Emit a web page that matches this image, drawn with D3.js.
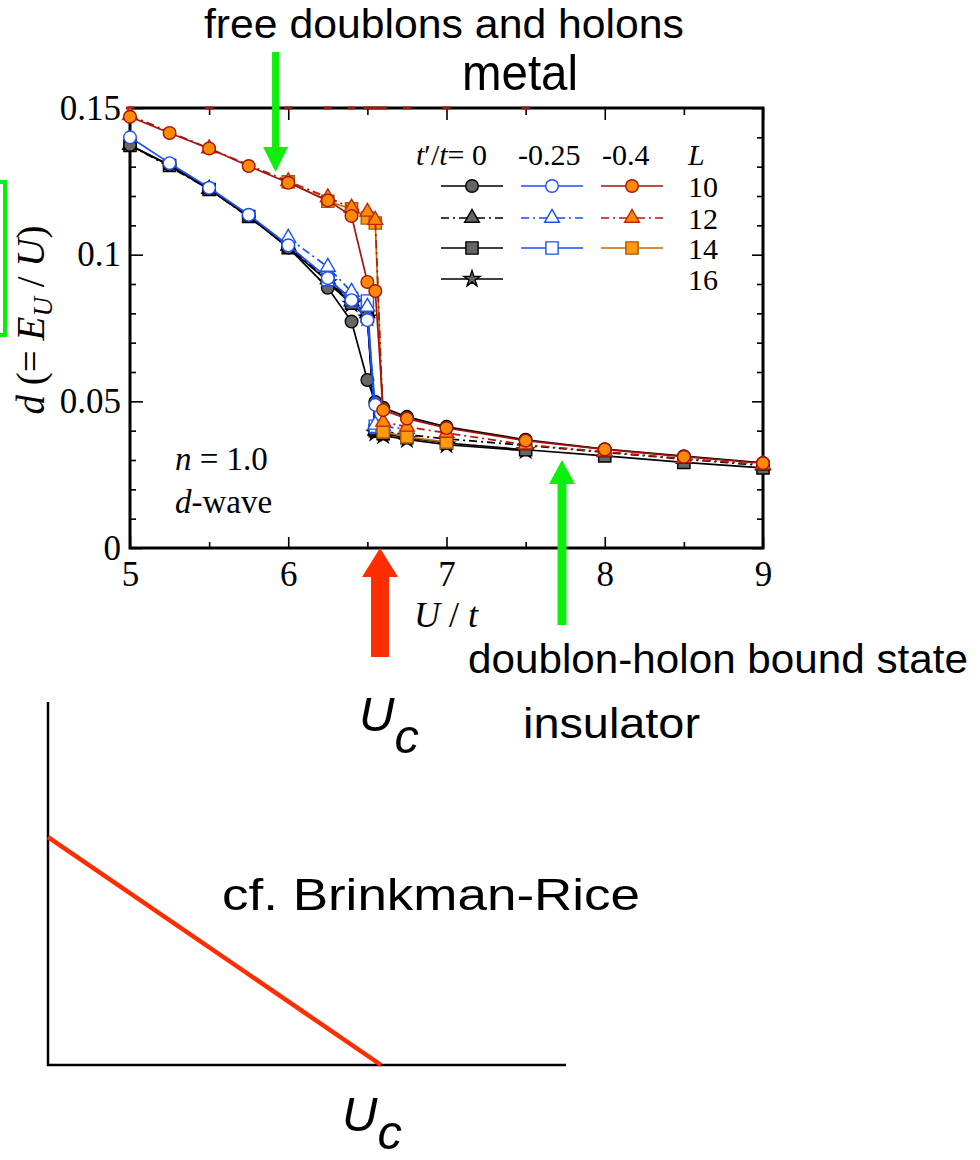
<!DOCTYPE html>
<html>
<head>
<meta charset="utf-8">
<script src="https://cdn.jsdelivr.net/npm/d3@7"></script>
<style>
  html, body { margin: 0; padding: 0; background: #fff; }
  svg { display: block; }
</style>
</head>
<body>
<svg id="chart" width="980" height="1160"></svg>
<script>
// ---- double occupancy d = E_U / U vs U/t (n = 1.0, d-wave) ----
// t'/t = 0
const u_t0_L10 = [5, 5.25, 5.5, 5.75, 6, 6.25, 6.4, 6.5, 6.55, 6.6, 6.75, 7, 7.5, 8, 8.5, 9];
const d_t0_L10 = [0.1374, 0.1306, 0.1224, 0.1132, 0.1024, 0.0887, 0.0772, 0.0573, 0.0498, 0.0478, 0.0447, 0.0413, 0.0369, 0.0337, 0.0313, 0.0290];
const u_t0_L12 = [5, 5.5, 6, 6.25, 6.4, 6.5, 6.55, 6.6, 6.75, 7, 7.5, 8, 8.5, 9];
const d_t0_L12 = [0.1374, 0.1224, 0.1030, 0.0915, 0.0840, 0.0800, 0.0400, 0.0398, 0.0386, 0.0372, 0.0350, 0.0326, 0.0303, 0.0281];
const u_t0_L14 = [5, 5.25, 5.5, 5.75, 6, 6.25, 6.4, 6.5, 6.55, 6.6, 6.75, 7, 7.5, 8, 8.5, 9];
const d_t0_L14 = [0.1372, 0.1304, 0.1222, 0.1130, 0.1024, 0.0910, 0.0835, 0.0790, 0.0400, 0.0390, 0.0376, 0.0358, 0.0335, 0.0314, 0.0292, 0.0273];
const u_t0_L16 = [6.25, 6.4, 6.5, 6.55, 6.6, 6.75, 7, 7.5];
const d_t0_L16 = [0.0905, 0.0832, 0.0785, 0.0392, 0.0383, 0.0370, 0.0352, 0.0332];
// t'/t = -0.25
const u_t25_L10 = [5, 5.25, 5.5, 5.75, 6, 6.25, 6.4, 6.5, 6.55];
const d_t25_L10 = [0.1400, 0.1312, 0.1228, 0.1136, 0.1032, 0.0920, 0.0845, 0.0777, 0.0488];
const u_t25_L12 = [6, 6.25, 6.4, 6.5, 6.55, 6.6, 6.75];
const d_t25_L12 = [0.1057, 0.0958, 0.0873, 0.0822, 0.0420, 0.0414, 0.0405];
const u_t25_L14 = [6.25, 6.4, 6.5, 6.55];
const d_t25_L14 = [0.0915, 0.0850, 0.0842, 0.0415];
// t'/t = -0.4
const u_t40_L10 = [5, 5.25, 5.5, 5.75, 6, 6.25, 6.4, 6.5, 6.55, 6.6, 6.75, 7, 7.5, 8, 8.5, 9];
const d_t40_L10 = [0.1470, 0.1415, 0.1362, 0.1302, 0.1245, 0.1185, 0.1132, 0.0907, 0.0876, 0.0470, 0.0441, 0.0409, 0.0366, 0.0336, 0.0311, 0.0289];
const u_t40_L12 = [5, 5.5, 6, 6.25, 6.4, 6.5, 6.55, 6.6, 6.75, 7, 7.5, 8, 8.5, 9];
const d_t40_L12 = [0.1475, 0.1362, 0.1250, 0.1195, 0.1160, 0.1146, 0.1118, 0.0430, 0.0413, 0.0392, 0.0352, 0.0328, 0.0305, 0.0284];
const u_t40_L14 = [6, 6.25, 6.4, 6.5, 6.55, 6.6, 6.75, 7];
const d_t40_L14 = [0.1248, 0.1182, 0.1156, 0.1125, 0.1108, 0.0396, 0.0379, 0.0361];

// axis ticks
const xMajor = [5, 6, 7, 8, 9];
const xMinor = [5.5, 6.5, 7.5, 8.5];
const yMajor = [0, 0.05, 0.1, 0.15];
const yMinor = [0.01, 0.02, 0.03, 0.04, 0.06, 0.07, 0.08, 0.09, 0.11, 0.12, 0.13, 0.14];

// legend
const legendTp = ["0", "-0.25", "-0.4"];
const legendL = ["10", "12", "14", "16"];

// Brinkman-Rice sketch (schematic units)
const brU = [0, 0.643];
const brD = [0.628, 0];

// annotation anchors in data coordinates
const ucU = 6.58;
const metalArrow = [5.92, 0.1282];
const insArrow = [7.73, 0.0300];

// -------------------------------------------------------------
const SERIF = "'Liberation Serif', 'Times New Roman', serif";
const SANS = "'Liberation Sans', Arial, sans-serif";

const svg = d3.select("#chart");
const x = d3.scaleLinear().domain([5, 9]).range([130, 763]);
const y = d3.scaleLinear().domain([0, 0.15]).range([548, 108]);

const BLACK = "#000", GRAY = "#666", BLUE = "#1a4dff";
const DASHDOT = "8,4,2,4";

const symSize = { circle: 125, triangle: 95, square: 150, star: 80 };
const symType = { circle: d3.symbolCircle, triangle: d3.symbolTriangle, square: d3.symbolSquare, star: d3.symbolStar };
const symbol = t => d3.symbol().type(symType[t]).size(symSize[t])();

// series: drawing order black -> blue -> orange
const series = [
  { row: 3, col: 0, u: u_t0_L16, d: d_t0_L16, line: BLACK, dash: null, sym: "star", fill: GRAY, ms: BLACK },
  { row: 2, col: 0, u: u_t0_L14, d: d_t0_L14, line: BLACK, dash: null, sym: "square", fill: GRAY, ms: BLACK },
  { row: 1, col: 0, u: u_t0_L12, d: d_t0_L12, line: BLACK, dash: DASHDOT, sym: "triangle", fill: GRAY, ms: BLACK },
  { row: 0, col: 0, u: u_t0_L10, d: d_t0_L10, line: BLACK, dash: null, sym: "circle", fill: GRAY, ms: BLACK },
  { row: 2, col: 1, u: u_t25_L14, d: d_t25_L14, line: BLUE, dash: null, sym: "square", fill: "#fff", ms: BLUE },
  { row: 1, col: 1, u: u_t25_L12, d: d_t25_L12, line: BLUE, dash: DASHDOT, sym: "triangle", fill: "#fff", ms: BLUE },
  { row: 0, col: 1, u: u_t25_L10, d: d_t25_L10, line: BLUE, dash: null, sym: "circle", fill: "#fff", ms: BLUE },
  { row: 2, col: 2, u: u_t40_L14, d: d_t40_L14, line: "#c46a00", dash: null, sym: "square", fill: "#ff9a10", ms: "#a85a00" },
  { row: 1, col: 2, u: u_t40_L12, d: d_t40_L12, line: "#b5170c", dash: DASHDOT, sym: "triangle", fill: "#ff8a00", ms: "#c0280a" },
  { row: 0, col: 2, u: u_t40_L10, d: d_t40_L10, line: "#a3120c", dash: null, sym: "circle", fill: "#ff8a00", ms: "#a3120c" }
];

// ---- axes ----
function styleAxis(g, size) {
  g.attr("font-family", SERIF).attr("font-size", size);
  g.select(".domain").remove();
  g.selectAll(".tick line").attr("stroke", BLACK).attr("stroke-width", 1.6);
  g.selectAll(".tick text").attr("fill", BLACK);
}
const gB = svg.append("g").attr("transform", `translate(0,${y(0)})`)
  .call(d3.axisBottom(x).tickValues(xMajor).tickSize(-11).tickPadding(13).tickFormat(d3.format("d")));
styleAxis(gB, 35);
const gBm = svg.append("g").attr("transform", `translate(0,${y(0)})`)
  .call(d3.axisBottom(x).tickValues(xMinor).tickSize(-6).tickFormat(""));
styleAxis(gBm, 35);
const gT = svg.append("g").attr("transform", `translate(0,${y(0.15)})`)
  .call(d3.axisTop(x).tickValues(xMajor).tickSize(-12).tickFormat(""));
styleAxis(gT, 35);
const gTm = svg.append("g").attr("transform", `translate(0,${y(0.15)})`)
  .call(d3.axisTop(x).tickValues(xMinor).tickSize(-7).tickFormat(""));
styleAxis(gTm, 35);
const gL = svg.append("g").attr("transform", `translate(${x(5)},0)`)
  .call(d3.axisLeft(y).tickValues(yMajor).tickSize(-13).tickPadding(9).tickFormat(d => String(d)));
styleAxis(gL, 35);
const gLm = svg.append("g").attr("transform", `translate(${x(5)},0)`)
  .call(d3.axisLeft(y).tickValues(yMinor).tickSize(-6).tickFormat(""));
styleAxis(gLm, 35);
const gR = svg.append("g").attr("transform", `translate(${x(9)},0)`)
  .call(d3.axisRight(y).tickValues(yMajor).tickSize(-11).tickFormat(""));
styleAxis(gR, 35);
const gRm = svg.append("g").attr("transform", `translate(${x(9)},0)`)
  .call(d3.axisRight(y).tickValues(yMinor).tickSize(-6).tickFormat(""));
styleAxis(gRm, 35);

// frame
svg.append("rect")
  .attr("x", x(5)).attr("y", y(0.15))
  .attr("width", x(9) - x(5)).attr("height", y(0) - y(0.15))
  .attr("fill", "none").attr("stroke", BLACK).attr("stroke-width", 3);

// faint dark-red traces of the t'/t=-0.4, L=12 data along the upper frame edge
svg.append("g").selectAll("line").data(u_t40_L12.filter(u => u <= 7.5)).join("line")
  .attr("x1", u => x(u) - 4).attr("x2", u => x(u) + 4)
  .attr("y1", y(0.15)).attr("y2", y(0.15))
  .attr("stroke", "#9a1a10").attr("stroke-width", 3);

// ---- data ----
const lineGen = d3.line().x(p => x(p[0])).y(p => y(p[1]));
const plot = svg.append("g");
series.forEach(s => {
  const pts = s.u.map((u, i) => [u, s.d[i]]);
  plot.append("path")
    .attr("d", lineGen(pts))
    .attr("fill", "none").attr("stroke", s.line).attr("stroke-width", 1.7)
    .attr("stroke-dasharray", s.dash);
  plot.append("g").selectAll("path").data(pts).join("path")
    .attr("transform", p => `translate(${x(p[0])},${y(p[1])})`)
    .attr("d", symbol(s.sym))
    .attr("fill", s.fill).attr("stroke", s.ms).attr("stroke-width", 1.4);
});

// ---- legend ----
const leg = svg.append("g").attr("font-family", SERIF).attr("font-size", 30).attr("fill", BLACK);
const colX = [[441, 503], [521, 583], [601, 663]];
const rowY = [186, 218, 248, 279];
const hdr = leg.append("text").attr("x", 416).attr("y", 165);
hdr.append("tspan").attr("font-style", "italic").text("t");
hdr.append("tspan").text("\u2032/");
hdr.append("tspan").attr("font-style", "italic").text("t");
hdr.append("tspan").text("= " + legendTp[0]);
leg.append("text").attr("x", 518).attr("y", 165).text(legendTp[1]);
leg.append("text").attr("x", 602).attr("y", 165).text(legendTp[2]);
leg.append("text").attr("x", 688).attr("y", 165).attr("font-style", "italic").text("L");
legendL.forEach((l, i) => leg.append("text").attr("x", 688).attr("y", rowY[i] + 11).text(l));
series.forEach(s => {
  const [a, b] = colX[s.col];
  const yy = rowY[s.row];
  leg.append("line").attr("x1", a).attr("x2", b).attr("y1", yy).attr("y2", yy)
    .attr("stroke", s.line).attr("stroke-width", 1.7).attr("stroke-dasharray", s.dash);
  leg.append("path").attr("transform", `translate(${(a + b) / 2},${yy})`)
    .attr("d", symbol(s.sym)).attr("fill", s.fill).attr("stroke", s.ms).attr("stroke-width", 1.4);
});

// ---- axis titles and notes ----
const yl = svg.append("text")
  .attr("transform", "translate(44,320) rotate(-90)")
  .attr("text-anchor", "middle")
  .attr("font-family", SERIF).attr("font-size", 39).attr("fill", BLACK);
yl.append("tspan").attr("font-style", "italic").text("d");
yl.append("tspan").text(" (= ");
yl.append("tspan").attr("font-style", "italic").text("E");
yl.append("tspan").attr("font-style", "italic").attr("font-size", 27).attr("dy", 8).text("U");
yl.append("tspan").attr("dy", -8).text(" / ");
yl.append("tspan").attr("font-style", "italic").text("U");
yl.append("tspan").text(")");

const xl = svg.append("text").attr("x", 414).attr("y", 627)
  .attr("font-family", SERIF).attr("font-size", 36).attr("fill", BLACK);
xl.append("tspan").attr("font-style", "italic").text("U");
xl.append("tspan").text(" / ");
xl.append("tspan").attr("font-style", "italic").text("t");

const n1 = svg.append("text").attr("x", 175).attr("y", 470)
  .attr("font-family", SERIF).attr("font-size", 33).attr("fill", BLACK);
n1.append("tspan").attr("font-style", "italic").text("n");
n1.append("tspan").text(" = 1.0");
const n2 = svg.append("text").attr("x", 175).attr("y", 513)
  .attr("font-family", SERIF).attr("font-size", 33).attr("fill", BLACK);
n2.append("tspan").attr("font-style", "italic").text("d");
n2.append("tspan").text("-wave");

// ---- arrows ----
const GREEN = "#0bef0b", RED = "#ff2d00";
function downArrow(cx, tipY, topY, shaftW, headW, headH, color) {
  const p = d3.path();
  p.moveTo(cx - shaftW / 2, topY);
  p.lineTo(cx + shaftW / 2, topY);
  p.lineTo(cx + shaftW / 2, tipY - headH);
  p.lineTo(cx + headW / 2, tipY - headH);
  p.lineTo(cx, tipY);
  p.lineTo(cx - headW / 2, tipY - headH);
  p.lineTo(cx - shaftW / 2, tipY - headH);
  p.closePath();
  svg.append("path").attr("d", p.toString()).attr("fill", color);
}
function upArrow(cx, tipY, botY, shaftW, headW, headH, color) {
  const p = d3.path();
  p.moveTo(cx - shaftW / 2, botY);
  p.lineTo(cx + shaftW / 2, botY);
  p.lineTo(cx + shaftW / 2, tipY + headH);
  p.lineTo(cx + headW / 2, tipY + headH);
  p.lineTo(cx, tipY);
  p.lineTo(cx - headW / 2, tipY + headH);
  p.lineTo(cx - shaftW / 2, tipY + headH);
  p.closePath();
  svg.append("path").attr("d", p.toString()).attr("fill", color);
}
downArrow(x(metalArrow[0]), y(metalArrow[1]), 52, 7, 25, 25, GREEN);
upArrow(x(insArrow[0]), y(insArrow[1]), 625, 9, 26, 24, GREEN);
upArrow(x(ucU), y(0), 657, 18, 36, 29, RED);

// green bracket at the left edge
svg.append("rect").attr("x", -30).attr("y", 182).attr("width", 35).attr("height", 153)
  .attr("fill", "none").attr("stroke", GREEN).attr("stroke-width", 4);

// ---- annotations ----
function sansText(str, x0, base, size, len) {
  return svg.append("text").attr("x", x0).attr("y", base)
    .attr("font-family", SANS).attr("font-size", size).attr("fill", BLACK)
    .attr("textLength", len).attr("lengthAdjust", "spacingAndGlyphs")
    .text(str);
}
sansText("free doublons and holons", 204, 38, 41, 480);
sansText("metal", 462, 90, 50, 116);
sansText("doublon-holon bound state", 468, 673, 41, 500);
sansText("insulator", 523, 738, 43, 177);
sansText("cf. Brinkman-Rice", 222, 910, 44, 418);

function ucLabel(x0, base, drop) {
  const t = svg.append("text").attr("x", x0).attr("y", base)
    .attr("font-family", SANS).attr("font-size", 49).attr("font-style", "italic").attr("fill", BLACK);
  t.append("tspan").text("U");
  t.append("tspan").attr("dy", drop).text("c");
}
ucLabel(359, 731, 22);
ucLabel(342, 1131, 18);

// ---- Brinkman-Rice schematic ----
const bx = d3.scaleLinear().domain([0, 1]).range([48, 566]);
const by = d3.scaleLinear().domain([0, 1]).range([1065, 702]);
svg.append("path")
  .attr("d", `M${bx(0)},${by(1)}V${by(0)}H${bx(1)}`)
  .attr("fill", "none").attr("stroke", BLACK).attr("stroke-width", 2.5);
svg.append("path")
  .attr("d", d3.line().x(p => bx(p[0])).y(p => by(p[1]))(brU.map((u, i) => [u, brD[i]])))
  .attr("fill", "none").attr("stroke", RED).attr("stroke-width", 4.5);
</script>
</body>
</html>
